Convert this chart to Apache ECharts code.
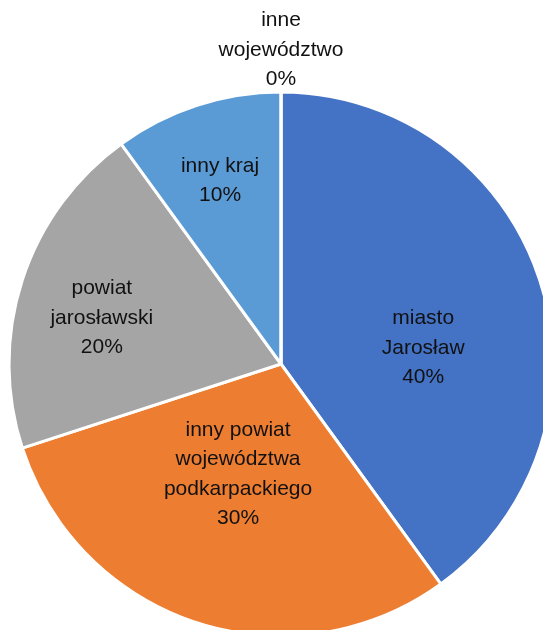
<!DOCTYPE html>
<html>
<head>
<meta charset="utf-8">
<script src="https://cdn.jsdelivr.net/npm/echarts@6/dist/echarts.min.js"></script>
<style>
  html, body { margin: 0; padding: 0; background: #fff; }
  #chart { width: 543px; height: 630px; }
</style>
</head>
<body>
<div id="chart"></div>
<script>
// dane wykresu
const categories = [
    "miasto\nJarosław",
    "inny powiat\nwojewództwa\npodkarpackiego",
    "powiat\njarosławski",
    "inny kraj",
    "inne\nwojewództwo"
];
const values = [40, 30, 20, 10, 0];
const colors = ["#4472C4", "#ED7D31", "#A5A5A5", "#5B9BD5", "#FFC000"];
// przesunięcia etykiet (jak "najlepsze dopasowanie" w Excelu)
const labelOffsets = [[10, 27], [0, -22], [-47, -3], [-18, -51], [0, -175]];

const chart = echarts.init(document.getElementById("chart"));

const data = categories.map((name, i) => ({
    name,
    value: values[i],
    itemStyle: { color: colors[i] },
    label: { offset: labelOffsets[i] }
}));

chart.setOption({
    backgroundColor: "#ffffff",
    animation: false,
    series: [
        {
            type: "pie",
            center: [281, 364],
            radius: [0, 272],
            startAngle: 90,
            clockwise: true,
            avoidLabelOverlap: false,
            minShowLabelAngle: -1,
            itemStyle: { borderColor: "#ffffff", borderWidth: 3 },
            label: {
                show: true,
                position: "inside",
                formatter: "{b}\n{d}%",
                color: "#111111",
                fontFamily: "Liberation Sans",
                fontSize: 21,
                lineHeight: 29.5,
                align: "center"
            },
            labelLine: { show: false },
            emphasis: { disabled: true },
            data
        }
    ]
});
</script>
</body>
</html>
